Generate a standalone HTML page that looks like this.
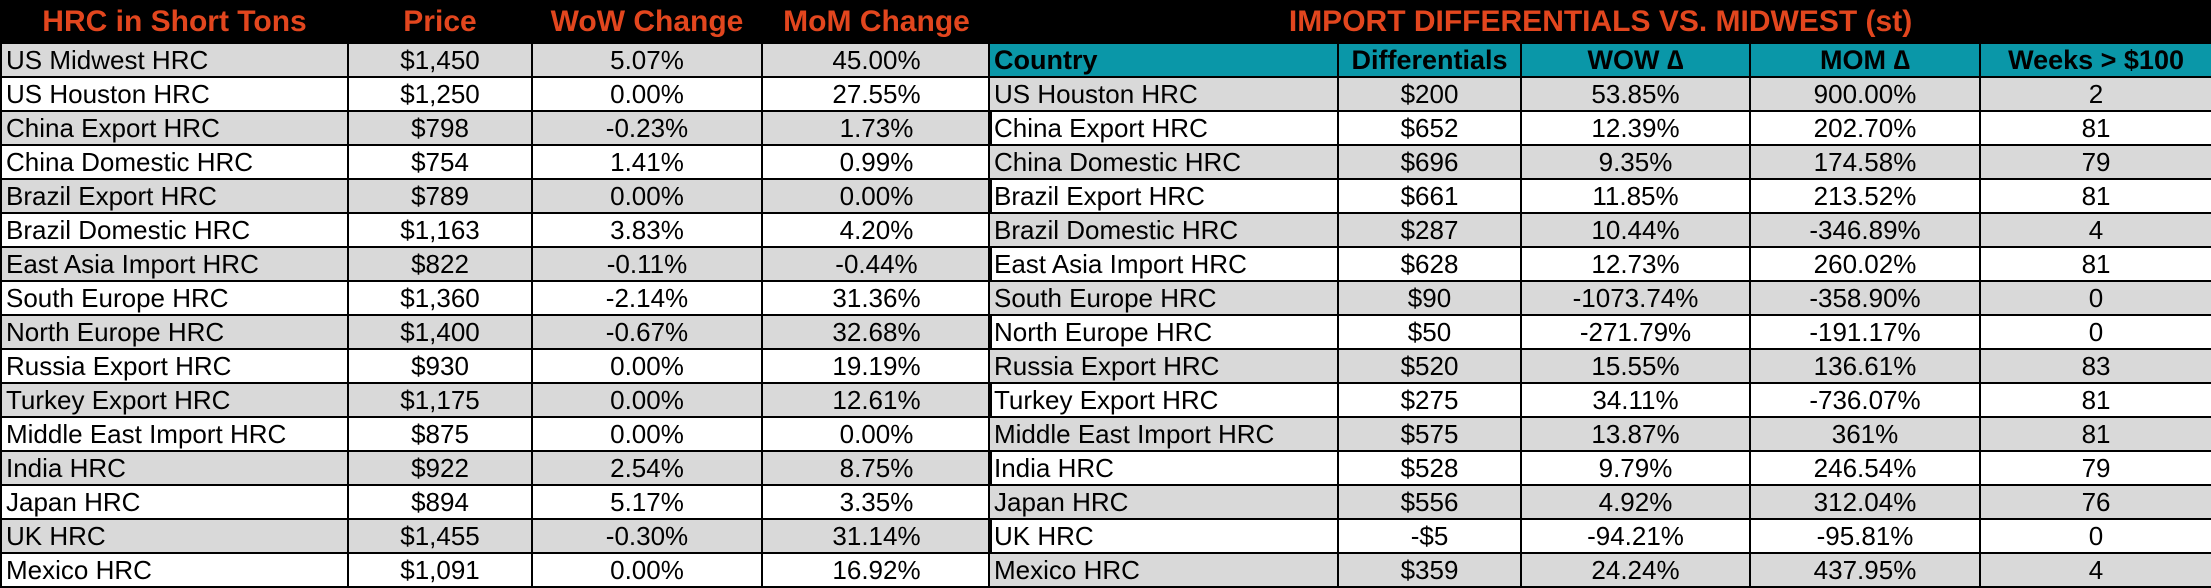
<!DOCTYPE html>
<html><head><meta charset="utf-8"><style>
body{margin:0;width:2211px;height:588px;overflow:hidden;background:#fff;font-family:"Liberation Sans Narrow","Liberation Sans",Arial,sans-serif;}
table{position:absolute;top:0;border-collapse:collapse;table-layout:fixed;}
td{border:2px solid #000;padding:0 6px;font-size:26px;color:#000;height:32px;text-align:center;white-space:nowrap;overflow:hidden;line-height:30px;}
td.l{text-align:left;padding-left:4px;}
tr.g td{background:#d9d9d9;}
tr.h td{background:#000;color:#e2461e;font-weight:bold;font-size:30px;height:40px;border-color:#000;}
tr.t td{background:#0a97a8;font-weight:bold;font-size:27px;}
</style></head><body>
<table style="left:0;width:990px">
<colgroup><col style="width:347px"><col style="width:184px"><col style="width:230px"><col style="width:229px"></colgroup>
<tr class="h"><td>HRC in Short Tons</td><td>Price</td><td>WoW Change</td><td>MoM Change</td></tr>
<tr class="g"><td class="l">US Midwest HRC</td><td>$1,450</td><td>5.07%</td><td>45.00%</td></tr>
<tr><td class="l">US Houston HRC</td><td>$1,250</td><td>0.00%</td><td>27.55%</td></tr>
<tr class="g"><td class="l">China Export HRC</td><td>$798</td><td>-0.23%</td><td>1.73%</td></tr>
<tr><td class="l">China Domestic HRC</td><td>$754</td><td>1.41%</td><td>0.99%</td></tr>
<tr class="g"><td class="l">Brazil Export HRC</td><td>$789</td><td>0.00%</td><td>0.00%</td></tr>
<tr><td class="l">Brazil Domestic HRC</td><td>$1,163</td><td>3.83%</td><td>4.20%</td></tr>
<tr class="g"><td class="l">East Asia Import HRC</td><td>$822</td><td>-0.11%</td><td>-0.44%</td></tr>
<tr><td class="l">South Europe HRC</td><td>$1,360</td><td>-2.14%</td><td>31.36%</td></tr>
<tr class="g"><td class="l">North Europe HRC</td><td>$1,400</td><td>-0.67%</td><td>32.68%</td></tr>
<tr><td class="l">Russia Export HRC</td><td>$930</td><td>0.00%</td><td>19.19%</td></tr>
<tr class="g"><td class="l">Turkey Export HRC</td><td>$1,175</td><td>0.00%</td><td>12.61%</td></tr>
<tr><td class="l">Middle East Import HRC</td><td>$875</td><td>0.00%</td><td>0.00%</td></tr>
<tr class="g"><td class="l">India HRC</td><td>$922</td><td>2.54%</td><td>8.75%</td></tr>
<tr><td class="l">Japan HRC</td><td>$894</td><td>5.17%</td><td>3.35%</td></tr>
<tr class="g"><td class="l">UK HRC</td><td>$1,455</td><td>-0.30%</td><td>31.14%</td></tr>
<tr><td class="l">Mexico HRC</td><td>$1,091</td><td>0.00%</td><td>16.92%</td></tr>
</table>
<table style="left:988px;width:1223px">
<colgroup><col style="width:349px"><col style="width:183px"><col style="width:229px"><col style="width:230px"><col style="width:232px"></colgroup>
<tr class="h"><td colspan="5">IMPORT DIFFERENTIALS VS. MIDWEST (st)</td></tr>
<tr class="t"><td class="l">Country</td><td>Differentials</td><td>WOW ∆</td><td>MOM ∆</td><td>Weeks &gt; $100</td></tr>
<tr class="g"><td class="l">US Houston HRC</td><td>$200</td><td>53.85%</td><td>900.00%</td><td>2</td></tr>
<tr><td class="l">China Export HRC</td><td>$652</td><td>12.39%</td><td>202.70%</td><td>81</td></tr>
<tr class="g"><td class="l">China Domestic HRC</td><td>$696</td><td>9.35%</td><td>174.58%</td><td>79</td></tr>
<tr><td class="l">Brazil Export HRC</td><td>$661</td><td>11.85%</td><td>213.52%</td><td>81</td></tr>
<tr class="g"><td class="l">Brazil Domestic HRC</td><td>$287</td><td>10.44%</td><td>-346.89%</td><td>4</td></tr>
<tr><td class="l">East Asia Import HRC</td><td>$628</td><td>12.73%</td><td>260.02%</td><td>81</td></tr>
<tr class="g"><td class="l">South Europe HRC</td><td>$90</td><td>-1073.74%</td><td>-358.90%</td><td>0</td></tr>
<tr><td class="l">North Europe HRC</td><td>$50</td><td>-271.79%</td><td>-191.17%</td><td>0</td></tr>
<tr class="g"><td class="l">Russia Export HRC</td><td>$520</td><td>15.55%</td><td>136.61%</td><td>83</td></tr>
<tr><td class="l">Turkey Export HRC</td><td>$275</td><td>34.11%</td><td>-736.07%</td><td>81</td></tr>
<tr class="g"><td class="l">Middle East Import HRC</td><td>$575</td><td>13.87%</td><td>361%</td><td>81</td></tr>
<tr><td class="l">India HRC</td><td>$528</td><td>9.79%</td><td>246.54%</td><td>79</td></tr>
<tr class="g"><td class="l">Japan HRC</td><td>$556</td><td>4.92%</td><td>312.04%</td><td>76</td></tr>
<tr><td class="l">UK HRC</td><td>-$5</td><td>-94.21%</td><td>-95.81%</td><td>0</td></tr>
<tr class="g"><td class="l">Mexico HRC</td><td>$359</td><td>24.24%</td><td>437.95%</td><td>4</td></tr>
</table>
</body></html>
